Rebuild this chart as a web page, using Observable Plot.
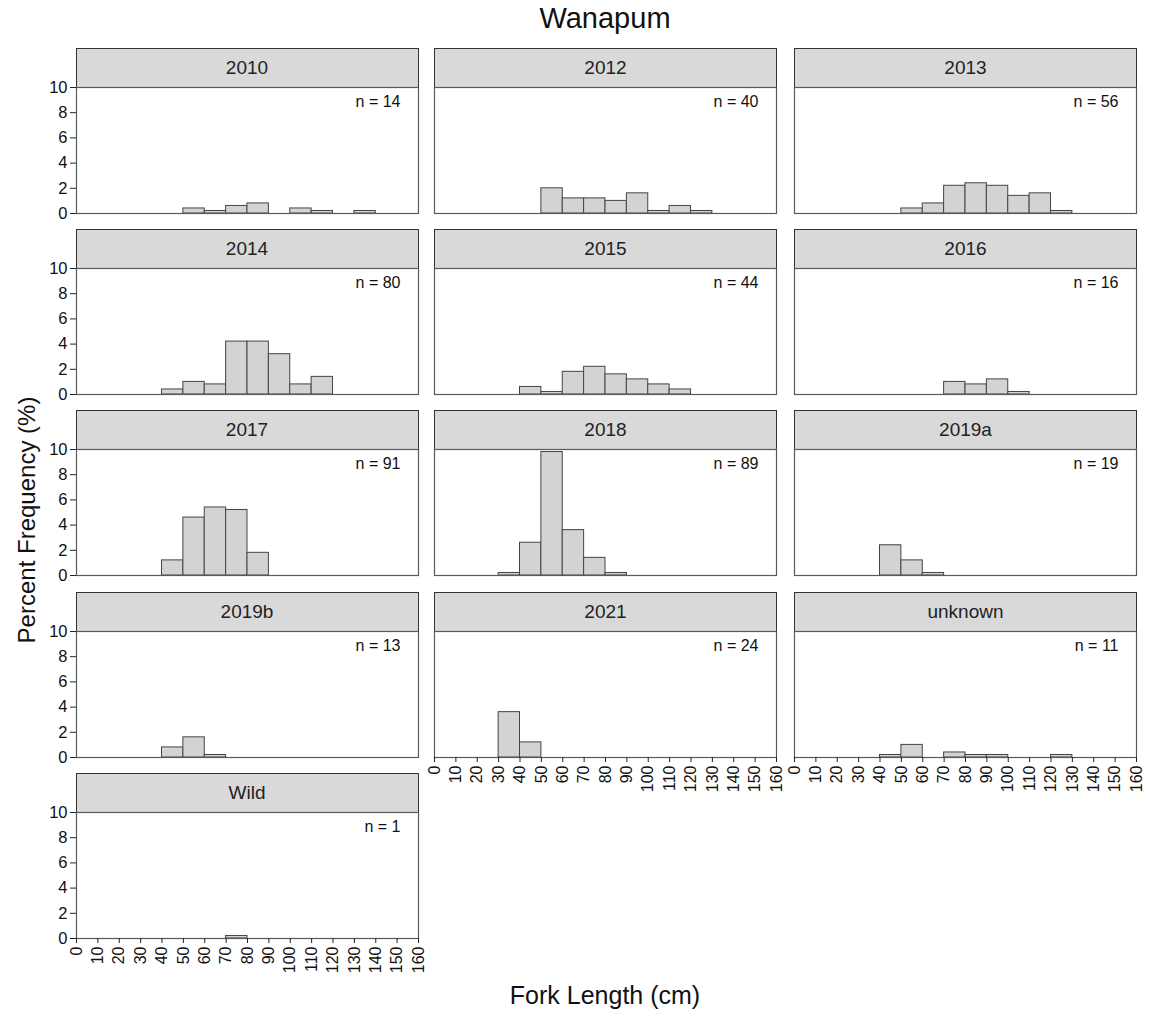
<!DOCTYPE html>
<html>
<head>
<meta charset="utf-8">
<script src="https://cdn.jsdelivr.net/npm/d3@7"></script>
<script src="https://cdn.jsdelivr.net/npm/@observablehq/plot@0.6"></script>
<style>
  html, body { margin: 0; padding: 0; background: #fff; }
  #root { position: relative; width: 1149px; height: 1016px; font-family: "Liberation Sans", Arial, sans-serif; color: #111; overflow: hidden; }
  .strip { position: absolute; box-sizing: border-box; background: #d9d9d9; border: 1px solid #333; text-align: center; font-size: 19px; color: #222; }
  .panel { position: absolute; }
  .title { position: absolute; color: #111; }
</style>
</head>
<body>
<div id="root"></div>
<script>
// ---- data ----
const binStarts = [0,10,20,30,40,50,60,70,80,90,100,110,120,130,140,150];
const xTicks = [0,10,20,30,40,50,60,70,80,90,100,110,120,130,140,150,160];
const yTicks = [0,2,4,6,8,10];
const panelNames = ["2010","2012","2013","2014","2015","2016","2017","2018","2019a","2019b","2021","unknown","Wild"];
const nValues = [14,40,56,80,44,16,91,89,19,13,24,11,1];
// percent frequency per 10-cm bin (bins start at binStarts)
const pct2010    = [0,0,0,0,0,0.4,0.2,0.6,0.8,0,0.4,0.2,0,0.2,0,0];
const pct2012    = [0,0,0,0,0,2.0,1.2,1.2,1.0,1.6,0.2,0.6,0.2,0,0,0];
const pct2013    = [0,0,0,0,0,0.4,0.8,2.2,2.4,2.2,1.4,1.6,0.2,0,0,0];
const pct2014    = [0,0,0,0,0.4,1.0,0.8,4.2,4.2,3.2,0.8,1.4,0,0,0,0];
const pct2015    = [0,0,0,0,0.6,0.2,1.8,2.2,1.6,1.2,0.8,0.4,0,0,0,0];
const pct2016    = [0,0,0,0,0,0,0,1.0,0.8,1.2,0.2,0,0,0,0,0];
const pct2017    = [0,0,0,0,1.2,4.6,5.4,5.2,1.8,0,0,0,0,0,0,0];
const pct2018    = [0,0,0,0.2,2.6,9.8,3.6,1.4,0.2,0,0,0,0,0,0,0];
const pct2019a   = [0,0,0,0,2.4,1.2,0.2,0,0,0,0,0,0,0,0,0];
const pct2019b   = [0,0,0,0,0.8,1.6,0.2,0,0,0,0,0,0,0,0,0];
const pct2021    = [0,0,0,3.6,1.2,0,0,0,0,0,0,0,0,0,0,0];
const pctUnknown = [0,0,0,0,0.2,1.0,0,0.4,0.2,0.2,0,0,0.2,0,0,0];
const pctWild    = [0,0,0,0,0,0,0,0.2,0,0,0,0,0,0,0,0];
const pctSeries = [pct2010,pct2012,pct2013,pct2014,pct2015,pct2016,pct2017,pct2018,pct2019a,pct2019b,pct2021,pctUnknown,pctWild];

// ---- layout ----
const colLeft = [75.5, 434, 794];
const rowTop = [48, 229, 410, 592, 773];
const plotW = 342, stripH = 39, plotH = 126;
const mL = 50, mR = 2, mT = 1;

const root = document.getElementById("root");

function addText(txt, style) {
  const d = document.createElement("div");
  d.className = "title";
  d.textContent = txt;
  Object.assign(d.style, style);
  root.appendChild(d);
  return d;
}

panelNames.forEach((name, i) => {
  const col = i % 3, row = Math.floor(i / 3);
  const left = colLeft[col], top = rowTop[row];
  const isLeft = col === 0;
  const isBottom = (i + 3) >= panelNames.length;

  const strip = document.createElement("div");
  strip.className = "strip";
  strip.textContent = name;
  Object.assign(strip.style, {left: (left) + "px", top: top + "px", width: (plotW + 1) + "px", height: (stripH + 1) + "px", lineHeight: (stripH - 1) + "px"});
  root.appendChild(strip);

  const data = binStarts.map((b, k) => ({x1: b, x2: b + 10, pct: pctSeries[i][k]})).filter(d => d.pct > 0);
  const mB = isBottom ? 42 : 1;
  const marks = [
    Plot.rectY(data, {x1: "x1", x2: "x2", y: "pct", fill: "#d3d3d3", stroke: "#444", strokeWidth: 1}),
    Plot.frame({stroke: "#5a5a5a", strokeWidth: 1.2}),
    Plot.text([`n = ${nValues[i]}`], {frameAnchor: "top-right", dx: -18, dy: 8, fontSize: 16, fill: "#111", textAnchor: "end"})
  ];
  if (isLeft) marks.push(Plot.axisY({ticks: yTicks, tickSize: 6, tickPadding: 3, fontSize: 16.5, label: null, stroke: "#222"}));
  if (isBottom) marks.push(Plot.axisX({ticks: xTicks, tickSize: 5, tickPadding: 3, tickRotate: -90, fontSize: 16, label: null, stroke: "#222"}));

  const chart = Plot.plot({
    width: mL + plotW + mR,
    height: mT + plotH + mB,
    marginLeft: mL, marginRight: mR, marginTop: mT, marginBottom: mB,
    style: {fontFamily: '"Liberation Sans", Arial, sans-serif', color: "#111", background: "transparent", overflow: "visible"},
    x: Object.assign({domain: [0, 160]}, isBottom ? {} : {axis: null}),
    y: Object.assign({domain: [0, 10]}, isLeft ? {} : {axis: null}),
    marks
  });
  chart.classList.add("panel");
  chart.style.left = (left - mL) + "px";
  chart.style.top = (top + stripH - mT) + "px";
  root.appendChild(chart);
});

addText("Wanapum", {left: "0px", width: "1210px", top: "2px", textAlign: "center", fontSize: "29px"});
addText("Fork Length (cm)", {left: "0px", width: "1210px", top: "981px", textAlign: "center", fontSize: "25px"});
addText("Percent Frequency (%)", {left: "27px", top: "520px", fontSize: "24px", whiteSpace: "nowrap", transform: "translate(-50%, -50%) rotate(-90deg)"});
</script>
</body>
</html>
